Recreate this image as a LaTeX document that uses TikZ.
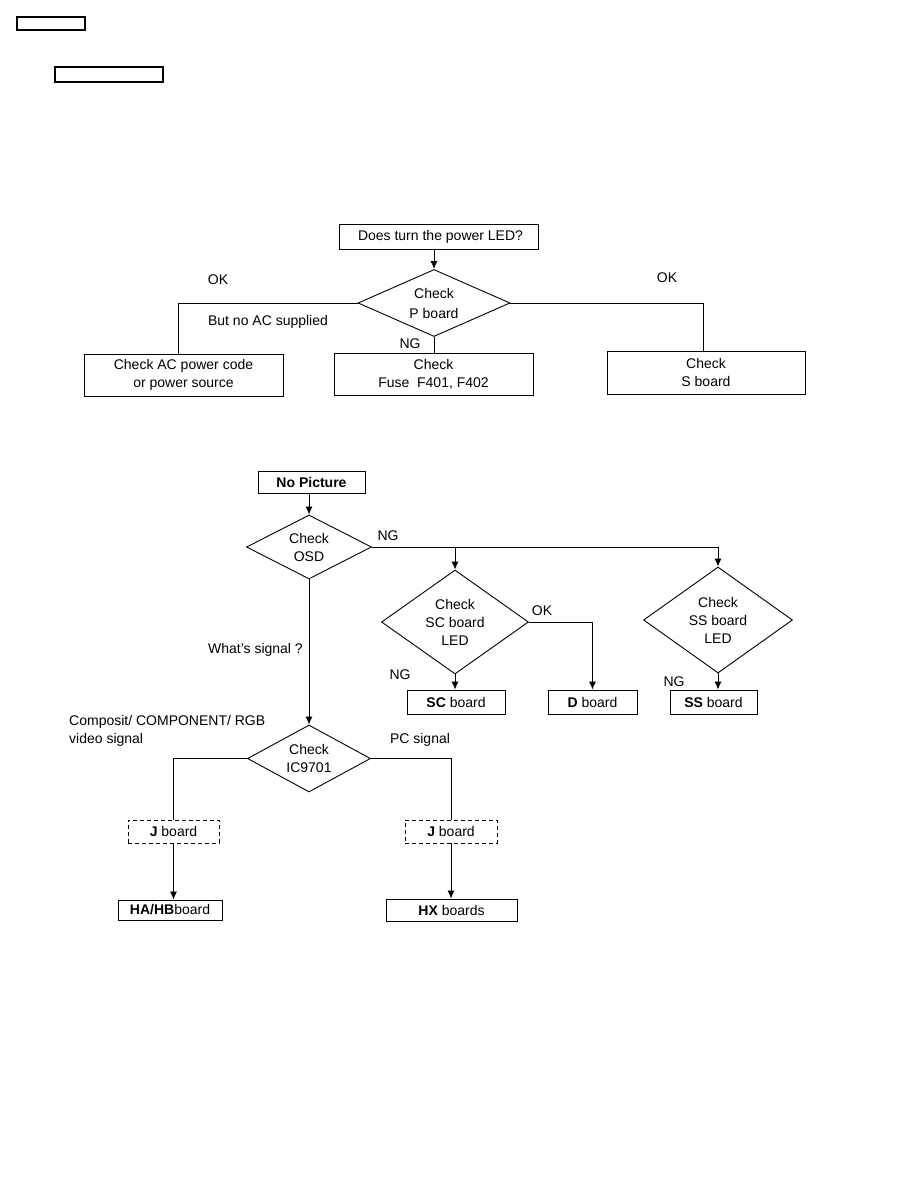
\documentclass[tikz,border=0pt]{standalone}
\usepackage{fontspec}
\setmainfont{Liberation Sans}
\usetikzlibrary{positioning,arrows.meta,shapes.geometric}

\begin{document}
\begin{tikzpicture}[
  x=1pt, y=-1pt,
  font=\fontsize{14}{18}\selectfont,
  box/.style={draw, line width=0.9pt, inner sep=0pt, align=center},
  hdr/.style={draw, line width=1.3pt, inner sep=0pt},
  dashbox/.style={box, dash pattern=on 4pt off 3pt},
  chk/.style={draw, diamond, line width=0.9pt, inner sep=0pt, align=center},
  ln/.style={line width=0.9pt},
  arr/.style={line width=0.9pt, -{Latex[length=8pt,width=7pt]}},
  lbl/.style={inner sep=0pt, align=left},
]
  \useasboundingbox (0,0) rectangle (918,1188);

  % header frames
  \node[hdr, minimum width=68pt, minimum height=13pt] (hdra) at (51,23.5) {};
  \node[hdr, minimum width=108pt, minimum height=15pt] (hdrb) at (109,74.5) {};

  % power LED check
  \node[box, minimum width=199pt, minimum height=25pt] (led) at (438.5,236.5)
    {\hspace*{4pt}Does turn the power LED?};
  \node[chk, minimum width=152pt, minimum height=67pt, aspect=2.2] (pchk) at (434,303)
    {Check\\[2pt] P board};
  \node[box, minimum width=199pt, minimum height=42pt] (acbox) at (183.5,375)
    {Check AC power code\\ or power source};
  \node[box, minimum width=199pt, minimum height=42pt] (fuse) at (433.5,374)
    {Check\\ Fuse~~F401,~F402};
  \node[box, minimum width=198pt, minimum height=43pt] (sbox) at (706,372.5)
    {Check\\ S board};
  \node[lbl] (okl) at (218,280) {OK};
  \node[lbl] (noac) at (268,322) {But no AC supplied};
  \node[lbl] (ngp) at (410,344) {NG};
  \node[lbl] (okr) at (667,278) {OK};

  \draw[arr] (pchk.north |- led.south) -- (pchk.north);
  \draw[ln] (pchk.west) -| ([xshift=-5pt]acbox.north);
  \draw[ln] (pchk.south) -- (pchk.south |- fuse.north);
  \draw[ln] (pchk.east) -| ([xshift=-3pt]sbox.north);

  % no picture
  \node[box, minimum width=107pt, minimum height=22pt] (nopic) at (311.5,482)
    {\bfseries No Picture};
  \node[chk, minimum width=125pt, minimum height=64pt, aspect=2] (osd) at (309,547)
    {Check\\ OSD};
  \node[chk, minimum width=147pt, minimum height=104pt, aspect=1.4] (scd) at (455,622)
    {Check\\ SC board\\ LED};
  \node[chk, minimum width=149pt, minimum height=106pt, aspect=1.4] (ssd) at (718,620)
    {Check\\ SS board\\ LED};
  \node[box, minimum width=98pt, minimum height=24pt] (scbox) at (456,702)
    {\textbf{SC} board};
  \node[box, minimum width=89pt, minimum height=24pt] (dbox) at (592.5,702)
    {\textbf{D} board};
  \node[box, minimum width=87pt, minimum height=24pt] (ssbox) at (713.5,702)
    {\textbf{SS} board};
  \node[lbl] (ngo) at (388,536) {NG};
  \node[lbl] (okd) at (542,611) {OK};
  \node[lbl] (ngsc) at (400,675) {NG};
  \node[lbl] (ngss) at (674,682) {NG};

  \draw[arr] (osd.north |- nopic.south) -- (osd.north);
  \draw[ln] (osd.east) -- (osd.east -| ssd.north);
  \draw[arr] (osd.east -| scd.north) -- (scd.north);
  \draw[arr] (osd.east -| ssd.north) -- (ssd.north);
  \draw[arr] (scd.east) -| (dbox.north);
  \draw[arr] (scd.south) -- (scd.south |- scbox.north);
  \draw[arr] (ssd.south) -- (ssd.south |- ssbox.north);

  % signal path
  \node[chk, minimum width=123pt, minimum height=67pt, aspect=2] (icd) at (309,758.5)
    {Check\\ IC9701};
  \node[lbl, anchor=east] (what) at (303,650) {What's signal ?};
  \node[lbl, anchor=west] (comp) at (69,731)
    {Composit/ COMPONENT/ RGB\\ video signal};
  \node[lbl] (pcl) at (420,740) {PC signal};
  \node[dashbox, minimum width=91pt, minimum height=23pt] (jl) at (173.5,831.5)
    {\textbf{J} board};
  \node[dashbox, minimum width=92pt, minimum height=23pt] (jr) at (451,831.5)
    {\textbf{J} board};
  \node[box, minimum width=104pt, minimum height=20pt] (habox) at (170,910)
    {\textbf{HA/HB}board};
  \node[box, minimum width=131pt, minimum height=22pt] (hx) at (451.5,910)
    {\textbf{HX} boards};

  \draw[arr] (osd.south) -- (icd.north);
  \draw[ln] (icd.west) -| (jl.north);
  \draw[ln] (icd.east) -| (jr.north);
  \draw[arr] (jl.south) -- (jl.south |- habox.north);
  \draw[arr] (jr.south) -- (jr.south |- hx.north);
\end{tikzpicture}
\end{document}
